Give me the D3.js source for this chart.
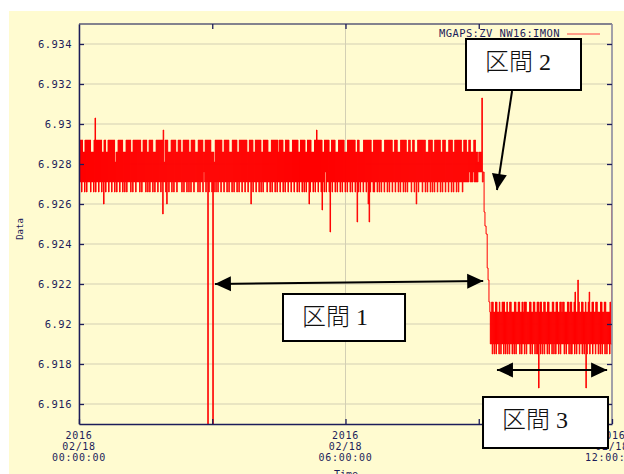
<!DOCTYPE html>
<html>
<head>
<meta charset="utf-8">
<script src="https://cdn.jsdelivr.net/npm/d3@7"></script>
<style>
body { margin: 0; background: #fff; }
svg { display: block; }
</style>
</head>
<body>
<svg id="chart" width="624" height="474"></svg>
<script>
// quantized levels (Data units)
var levels1 = [6.9260, 6.9266, 6.9271, 6.9276, 6.9281, 6.9286, 6.9292, 6.9297, 6.9303];
var levels3 = [6.9168, 6.9185, 6.9190, 6.9195, 6.9201, 6.9206, 6.9211, 6.9216, 6.9222];

// section 1 : 00:00 -> ~09:04, per sample slot the high and low reading (index into levels1)
var sec1Span = [0, 9.07];
var sec1Hi =
  "6666556666665556666666655665566666664556666655566666556666666655666655666655566666667466655566666556" +
  "6655666666556666555666665566666655546666666556666655566666556666666655666655666666556666655566666665" +
  "6666556666555666666556666655666655566766666556666655666655566666655566666666556655556666666655666666" +
  "6655566666666556665556666665566556655566666666555666655666666556665556666556666666556665566555665545554555544";
var sec1Lo =
  "2212212122212212122122120212212212212122122121212221212212221212221212122121221221212210212212122122" +
  "2212122121212212221212213212212212121212212212212122121221212212212212202122122121212221221212212122" +
  "1221212212212212212122121212201221212212212213122122122121221212212122121221221212212212021221122121" +
  "2122122121221221221212212121222122120212221221212212121221221212212212212122121222122222232223222233332";
// single-sample excursions in section 1 [hour, value]
var sec1Spikes = [[0.36, 6.9303], [1.87, 6.9255], [2.88, 6.9140], [2.99, 6.9140],
  [5.47, 6.9257], [5.63, 6.9246], [6.26, 6.9251], [6.51, 6.9251], [9.07, 6.9313]];

// the step down between section 1 and 3
var dropTimes = [9.10, 9.12, 9.14, 9.165, 9.19, 9.21, 9.23];
var dropValues = [6.9276, 6.9256, 6.9249, 6.9245, 6.9228, 6.9222, 6.9211];

// section 3 : ~09:15 -> 12:00
var sec3Span = [9.25, 11.955];
var sec3Hi =
  "5566556655655666556556655566556655656665556655665566566556655665556655665566" +
  "5665556656655665566556655655665566556655566556655556";
var sec3Lo =
  "2212121221212212121212212121222121221212221212212112212121221212212121221212" +
  "2212122121122121221221212212212212212212121221212212";
var sec3Spikes = [[10.33, 6.9168], [11.17, 6.9216], [11.23, 6.9222], [11.41, 6.9168], [11.48, 6.9216]];
var lastPoint = [12.0, 6.9260];

var yTicks = [6.916, 6.918, 6.92, 6.922, 6.924, 6.926, 6.928, 6.93, 6.932, 6.934];
var yTickLabels = ["6.916", "6.918", "6.92", "6.922", "6.924", "6.926", "6.928", "6.93", "6.932", "6.934"];
var xTicks = [0, 3, 6, 9, 12];
var xLabelTicks = [0, 6, 12];
var xTickLabels = [["2016", "02/18", "00:00:00"], ["2016", "02/18", "06:00:00"], ["2016", "02/18", "12:00:00"]];
var seriesName = "MGAPS:ZV NW16:IMON";

// annotation boxes and arrows, in (hour, value)
var notes = [
  {text: "\u533A\u9593 1", t0: 4.593, t1: 7.340, v0: 6.92150, v1: 6.91915},
  {text: "\u533A\u9593 2", t0: 8.713, t1: 11.302, v0: 6.93425, v1: 6.93170},
  {text: "\u533A\u9593 3", t0: 9.096, t1: 11.91, v0: 6.91635, v1: 6.91380}
];
var arrows = [
  {from: [3.06, 6.9220], to: [9.10, 6.92215], both: true},
  {from: [9.75, 6.93165], to: [9.41, 6.9267], both: false},
  {from: [9.41, 6.9177], to: [11.89, 6.9177], both: true}
];

var navy = "#1c1c5a";
var monoFont = "DejaVu Sans Mono";
var svg = d3.select("#chart");
var L = 79, R = 612, T = 24, B = 424;

var x = d3.scaleLinear().domain([0, 12]).range([L, R]);
var y = d3.scaleLinear().domain([6.915, 6.935]).range([B, T]);

// build series: each slot goes high reading then low reading
var series = [];
function addSection(hi, lo, span, lv, spikes) {
  var n = Math.min(hi.length, lo.length), step = (span[1] - span[0]) / (n - 1);
  var slots = [];
  for (var i = 0; i < n; i++) {
    slots.push({t: span[0] + step * i, hi: lv[+hi[i]], lo: lv[+lo[i]]});
  }
  spikes.forEach(function(s) {
    var best = 0;
    for (var k = 1; k < slots.length; k++)
      if (Math.abs(slots[k].t - s[0]) < Math.abs(slots[best].t - s[0])) best = k;
    if (s[1] > slots[best].hi) slots[best].hi = s[1];
    else slots[best].lo = s[1];
  });
  slots.forEach(function(d) {
    series.push({t: d.t, v: d.hi});
    series.push({t: d.t + step / 2, v: d.lo});
  });
}
addSection(sec1Hi, sec1Lo, sec1Span, levels1, sec1Spikes);
for (var i = 0; i < dropTimes.length; i++) series.push({t: dropTimes[i], v: dropValues[i]});
addSection(sec3Hi, sec3Lo, sec3Span, levels3, sec3Spikes);
series.push({t: lastPoint[0], v: lastPoint[1]});

// backgrounds
svg.append("rect").attr("x", 0).attr("y", 0).attr("width", 624).attr("height", 474).attr("fill", "#fff");
svg.append("rect").attr("x", 9).attr("y", 11).attr("width", 615).attr("height", 463).attr("fill", "#fffbd0");

// grid
var grid = svg.append("g");
yTicks.forEach(function(v) {
  grid.append("line").attr("x1", L).attr("x2", R).attr("y1", y(v)).attr("y2", y(v))
    .attr("stroke", "#d3cfb4").attr("stroke-width", 1);
});
xLabelTicks.forEach(function(t) {
  grid.append("line").attr("x1", x(t)).attr("x2", x(t)).attr("y1", T).attr("y2", B)
    .attr("stroke", "#d3cfb4").attr("stroke-width", 1);
});

// data line
svg.append("clipPath").attr("id", "clip").append("rect")
  .attr("x", L).attr("y", T).attr("width", R - L).attr("height", B - T);
var line = d3.line().x(function(d) { return x(d.t); }).y(function(d) { return y(d.v); })
  .curve(d3.curveStepAfter);
svg.append("path").datum(series).attr("clip-path", "url(#clip)")
  .attr("d", line).attr("fill", "none").attr("stroke", "#ff0000").attr("stroke-width", 1);

// frame: top and right in grey, left and bottom axis in navy
svg.append("line").attr("x1", L).attr("x2", R).attr("y1", T).attr("y2", T).attr("stroke", "#5a5a78").attr("stroke-width", 1.5);
svg.append("line").attr("x1", R).attr("x2", R).attr("y1", T).attr("y2", B).attr("stroke", "#8a8aa0").attr("stroke-width", 1.5);

var yAxis = d3.axisLeft(y).tickValues(yTicks).tickSizeInner(-5).tickSizeOuter(0).tickPadding(7)
  .tickFormat(function(d, i) { return yTickLabels[i]; });
var gy = svg.append("g").attr("transform", "translate(" + L + ",0)").call(yAxis);
gy.select(".domain").attr("stroke", navy).attr("stroke-width", 1.5);
gy.selectAll(".tick line").attr("stroke", navy).attr("stroke-width", 1.3);
gy.selectAll(".tick text").attr("fill", navy).attr("x", -7)
  .style("font-family", monoFont).style("font-size", "10.5px").style("letter-spacing", "0.5px");

var yRight = d3.axisRight(y).tickValues(yTicks).tickSizeInner(-5).tickSizeOuter(0).tickFormat("");
var gr = svg.append("g").attr("transform", "translate(" + R + ",0)").call(yRight);
gr.select(".domain").remove();
gr.selectAll(".tick line").attr("stroke", navy).attr("stroke-width", 1.3);

var xAxis = d3.axisBottom(x).tickValues(xTicks).tickSizeInner(-5).tickSizeOuter(0).tickFormat("");
var gx = svg.append("g").attr("transform", "translate(0," + B + ")").call(xAxis);
gx.select(".domain").attr("stroke", navy).attr("stroke-width", 1.5);
gx.selectAll(".tick line").attr("stroke", navy).attr("stroke-width", 1.3);

var xTop = d3.axisTop(x).tickValues(xTicks.slice(1, -1)).tickSizeInner(-5).tickSizeOuter(0).tickFormat("");
var gt = svg.append("g").attr("transform", "translate(0," + T + ")").call(xTop);
gt.select(".domain").remove();
gt.selectAll(".tick line").attr("stroke", navy).attr("stroke-width", 1.3);

// x tick labels (3 lines each)
xLabelTicks.forEach(function(t, i) {
  var tx = svg.append("text").attr("text-anchor", "middle").attr("fill", navy)
    .style("font-family", monoFont).style("font-size", "10px").style("letter-spacing", "0.7px");
  xTickLabels[i].forEach(function(s, j) {
    tx.append("tspan").attr("x", x(t)).attr("y", 439 + j * 11).text(s);
  });
});

// axis titles
svg.append("text").attr("x", 346).attr("y", 478).attr("text-anchor", "middle").attr("fill", navy)
  .style("font-family", monoFont).style("font-size", "10px").text("Time");
svg.append("text").attr("transform", "translate(23,229) rotate(-90)").attr("text-anchor", "middle").attr("fill", navy)
  .style("font-family", monoFont).style("font-size", "9px").text("Data");

// legend
svg.append("text").attr("x", 560).attr("y", 37).attr("text-anchor", "end").attr("fill", navy)
  .style("font-family", monoFont).style("font-size", "10.5px").style("letter-spacing", "0.4px").text(seriesName);
svg.append("line").attr("x1", 567).attr("x2", 600).attr("y1", 34).attr("y2", 34)
  .attr("stroke", "#ff4040").attr("stroke-width", 1);

// arrows
function head(g, tip, back) {
  var dx = tip[0] - back[0], dy = tip[1] - back[1];
  var len = Math.sqrt(dx * dx + dy * dy);
  var ux = dx / len, uy = dy / len;
  var hl = 16, hw = 7.5;
  var bx = tip[0] - ux * hl, by = tip[1] - uy * hl;
  g.append("polygon").attr("points",
    tip[0] + "," + tip[1] + " " + (bx - uy * hw) + "," + (by + ux * hw) + " " + (bx + uy * hw) + "," + (by - ux * hw))
    .attr("fill", "#000");
}
var ga = svg.append("g");
arrows.forEach(function(a) {
  var p0 = [x(a.from[0]), y(a.from[1])], p1 = [x(a.to[0]), y(a.to[1])];
  ga.append("line").attr("x1", p0[0]).attr("y1", p0[1]).attr("x2", p1[0]).attr("y2", p1[1])
    .attr("stroke", "#000").attr("stroke-width", 2);
  head(ga, p1, p0);
  if (a.both) head(ga, p0, p1);
});

// boxes
notes.forEach(function(n) {
  var bx = x(n.t0), by = y(n.v0);
  svg.append("rect").attr("x", bx).attr("y", by).attr("width", x(n.t1) - bx).attr("height", y(n.v1) - by)
    .attr("fill", "#fff").attr("stroke", "#000").attr("stroke-width", 2);
  svg.append("text").attr("x", bx + 19).attr("y", by + 31).attr("fill", "#111")
    .style("font-family", "'Liberation Serif', 'Noto Sans CJK JP'").style("font-size", "24px").style("font-weight", 300)
    .text(n.text);
});
</script>
</body>
</html>
